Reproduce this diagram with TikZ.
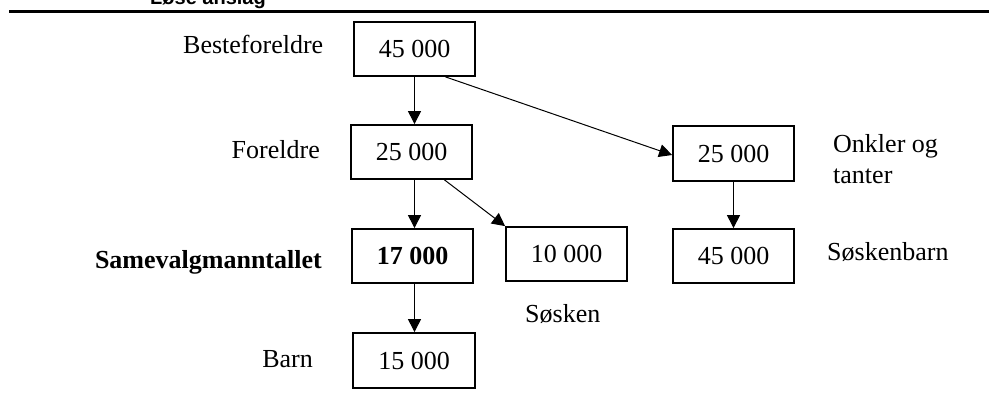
\documentclass[tikz,border=0pt]{standalone}
\usepackage{fontspec}
\setmainfont{Liberation Serif}
\newfontfamily\hdrfont{Liberation Sans}
\usetikzlibrary{arrows.meta,positioning}
\begin{document}
\begin{tikzpicture}[x=1pt,y=1pt,
  every node/.style={font=\fontsize{26}{31}\selectfont, inner sep=0pt},
  box/.style={draw, line width=1.8pt, minimum width=121pt, minimum height=54pt},
  lbl/.style={},
  conn/.style={line width=1pt, -{Triangle[length=13pt,width=13pt]}}]
\useasboundingbox (0,0) rectangle (989,-405);
\fill[white] (0,0) rectangle (989,-405);
% header (cut off at the top edge, as in the reference)
\begin{scope}
  \clip (0,0) rectangle (989,-9.5);
  \node[anchor=base west, font=\hdrfont\bfseries\fontsize{20}{24}\selectfont] (hdr) at (150,-4.5) {Løse anslag};
\end{scope}
\coordinate (ruleL) at (9,-11.5);
\coordinate (ruleR) at (989,-11.5);
\draw[line width=3pt] (ruleL) -- (ruleR);
% boxes
\node[box] (top) at (414.5,-49) {45 000};
\node[box] (foreldre) at (411.5,-152) {25 000};
\node[box, minimum height=55pt] (onkler) at (733.5,-153.5) {25 000};
\node[box] (samevalg) at (412.5,-256) {\bfseries 17 000};
\node[box] (sosken) at (566.5,-254) {10 000};
\node[box] (soskenbarn) at (733.5,-256) {45 000};
\node[box, minimum width=122pt, minimum height=55pt] (barn) at (414,-360.5) {15 000};
% labels
\node[lbl, anchor=base west] (lBeste) at (183,-53) {Besteforeldre};
\node[lbl, anchor=base east] (lForeldre) at (320,-158) {Foreldre};
\node[lbl, anchor=base east] (lSame) at (322,-268) {\bfseries Samevalgmanntallet};
\node[lbl, anchor=base east] (lBarn) at (313,-367) {Barn};
\node[lbl, anchor=base west, align=left] (lOnkler) at (833,-183) {Onkler og\\tanter};
\node[lbl, anchor=base west] (lSbarn) at (827,-260) {Søskenbarn};
\node[lbl, anchor=base west] (lSosken) at (525,-322) {Søsken};
% connectors
\draw[conn] (top.south) -- (top.south |- foreldre.north);
\draw[conn] ([xshift=31pt]top.south) -- ([yshift=-1.5pt]onkler.west);
\draw[conn] ([xshift=3pt]foreldre.south) -- ([xshift=3pt]foreldre.south |- samevalg.north);
\draw[conn] ([xshift=33pt]foreldre.south) -- (sosken.north west);
\draw[conn] (onkler.south) -- (onkler.south |- soskenbarn.north);
\draw[conn] ([xshift=2pt]samevalg.south) -- ([xshift=2pt]samevalg.south |- barn.north);
\end{tikzpicture}
\end{document}
